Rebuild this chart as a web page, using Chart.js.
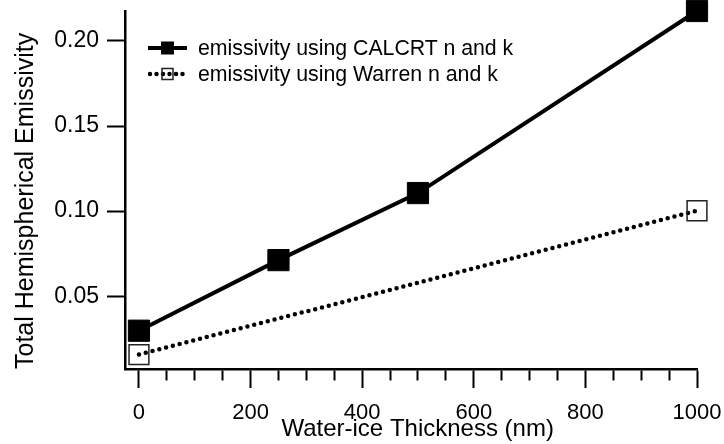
<!DOCTYPE html>
<html><head><meta charset="utf-8">
<script src="https://cdn.jsdelivr.net/npm/chart.js@4"></script>
<style>
html,body{margin:0;padding:0;background:#fff;}
#wrap{position:relative;width:724px;height:444px;}
canvas{display:block;}
#legend{position:absolute;left:148px;top:35px;font-family:"Liberation Sans",Arial,sans-serif;font-size:21.3px;color:#000;}
.row{display:flex;align-items:center;height:26px;white-space:nowrap;}
.row svg{margin-right:11px;flex:none;}
</style></head><body>
<div id="wrap"><canvas id="c" width="724" height="444"></canvas>
<div id="legend">
 <div class="row"><svg width="39" height="20"><line x1="0" y1="10" x2="39" y2="10" stroke="#000" stroke-width="4"/><rect x="13" y="3.5" width="13" height="13" fill="#000"/></svg><span id="l1"></span></div>
 <div class="row"><svg width="39" height="20"><line x1="2" y1="10" x2="38" y2="10" stroke="#000" stroke-width="4.5" stroke-linecap="round" stroke-dasharray="0 6.5"/><rect x="14" y="4.5" width="11" height="11" fill="none" stroke="#222" stroke-width="1.5"/></svg><span id="l2"></span></div>
</div></div>
<script>
// ---- data ----
const SERIES_NAMES = ['emissivity using CALCRT n and k', 'emissivity using Warren n and k'];
const CALCRT_X = [0, 250, 500, 1000];
const CALCRT_Y = [0.0297, 0.0712, 0.1106, 0.2176];
const WARREN_X = [0, 1000];
const WARREN_Y = [0.0157, 0.1002];
const X_TICKS = [0, 50, 100, 150, 200, 250, 300, 350, 400, 450, 500, 550, 600, 650, 700, 750, 800, 850, 900, 950, 1000];
const X_LABELED = [0, 200, 400, 600, 800, 1000];
const Y_TICKS = [0.05, 0.10, 0.15, 0.20];
const X_TITLE = 'Water-ice Thickness (nm)';
const Y_TITLE = 'Total Hemispherical Emissivity';

document.getElementById('l1').textContent = SERIES_NAMES[0];
document.getElementById('l2').textContent = SERIES_NAMES[1];

const FONT = "'Liberation Sans', Arial, sans-serif";
Chart.defaults.font.family = FONT;
Chart.defaults.color = '#000';

new Chart(document.getElementById('c'), {
  type: 'scatter',
  data: {
    datasets: [
      {
        label: SERIES_NAMES[0],
        data: CALCRT_X.map((x, i) => ({x: x, y: CALCRT_Y[i]})),
        showLine: true, borderColor: '#000', borderWidth: 4,
        pointStyle: 'rect', pointRadius: 15, pointBackgroundColor: '#000',
        pointBorderColor: '#000', pointBorderWidth: 1, clip: false
      },
      {
        label: SERIES_NAMES[1],
        data: WARREN_X.map((x, i) => ({x: x, y: WARREN_Y[i]})),
        showLine: true, borderColor: '#000', borderWidth: 4.5,
        borderDash: [0, 7], borderCapStyle: 'round',
        pointStyle: 'rect', pointRadius: 14, pointBackgroundColor: 'rgba(0,0,0,0)',
        pointBorderColor: '#222', pointBorderWidth: 1.5, clip: false
      }
    ]
  },
  options: {
    responsive: false, animation: false, devicePixelRatio: 1,
    layout: {autoPadding: false, padding: {top: 11, right: 27, bottom: 0, left: 0}},
    plugins: {legend: {display: false}, tooltip: {enabled: false}},
    scales: {
      x: {
        type: 'linear', min: -25, max: 1000,
        afterBuildTicks: s => { s.ticks = X_TICKS.map(v => ({value: v})); },
        afterFit: s => { s.height = 75; s.paddingLeft = 0; s.paddingRight = 0; },
        grid: {
          drawOnChartArea: false, tickLength: 19, tickColor: '#000', tickWidth: 2,
          tickBorderDash: c => (c.tick && X_LABELED.includes(c.tick.value)) ? [] : [10, 100]
        },
        border: {color: '#000', width: 2.5},
        ticks: {
          autoSkip: false, maxRotation: 0, minRotation: 0, padding: 12,
          font: {size: 22},
          callback: v => X_LABELED.includes(v) ? String(v) : ''
        },
        title: {display: true, text: '  ' + X_TITLE, font: {size: 24}, padding: {top: 0, bottom: 0}}
      },
      y: {
        type: 'linear', min: 0.0072, max: 0.2176,
        afterBuildTicks: s => { s.ticks = Y_TICKS.map(v => ({value: v})); },
        afterFit: s => { s.width = 125; s.paddingTop = 0; s.paddingBottom = 0; },
        grid: {drawOnChartArea: false, tickLength: 18, tickColor: '#000', tickWidth: 2},
        border: {color: '#000', width: 2.5},
        ticks: {padding: 8, font: {size: 23}, callback: v => v.toFixed(2)},
        title: {display: true, text: Y_TITLE, align: 'start', font: {size: 25}, padding: {top: 11, bottom: 0}}
      }
    }
  }
});
</script>
</body></html>
